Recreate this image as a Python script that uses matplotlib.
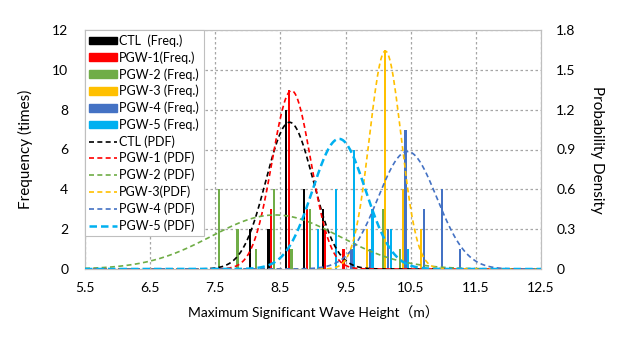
import numpy as np
from matplotlib import pyplot as plt
from matplotlib.patches import Patch
from matplotlib.lines import Line2D

plt.rcParams["font.family"] = ["Lato", "Noto Sans CJK JP"]

# Data ─────────────────────────────────────────────────────────────────────────
bin_centers = [7.58, 7.86, 8.14, 8.42, 8.69, 8.97, 9.25, 9.53, 9.81, 10.09, 10.36, 10.64, 10.92, 11.20]

freq_ctl = [0, 0, 2, 2, 8, 4, 3, 0, 0, 0, 0, 0, 0, 0]
freq_pgw1 = [0, 0, 0, 3, 9, 3, 2, 1, 0, 0, 0, 0, 0, 0]
freq_pgw2 = [4, 2, 1, 4, 1, 3, 0, 0, 0, 3, 1, 0, 0, 0]
freq_pgw3 = [0, 0, 0, 0, 0, 0, 0, 0, 2, 11, 4, 2, 0, 0]
freq_pgw4 = [0, 0, 0, 0, 0, 0, 0, 1, 1, 2, 7, 3, 4, 1]
freq_pgw5 = [0, 0, 0, 0, 0, 2, 4, 6, 3, 2, 1, 0, 0, 0]

# fitted normal distributions (mean, std) for the PDF curves
pdf_mean = [8.64, 8.67, 8.42, 10.11, 10.45, 9.40]
pdf_std = [0.361, 0.297, 0.98, 0.243, 0.451, 0.407]

names = ["CTL", "PGW-1", "PGW-2", "PGW-3", "PGW-4", "PGW-5"]
freq_labels = ["CTL  (Freq.)", "PGW-1(Freq.)", "PGW-2 (Freq.)", "PGW-3 (Freq.)", "PGW-4 (Freq.)", "PGW-5 (Freq.)"]
pdf_labels = ["CTL (PDF)", "PGW-1 (PDF)", "PGW-2 (PDF)", "PGW-3(PDF)", "PGW-4 (PDF)", "PGW-5 (PDF)"]
colors = ["#000000", "#FF0000", "#70AD47", "#FFC000", "#4472C4", "#00B0F0"]

freqs = [freq_ctl, freq_pgw1, freq_pgw2, freq_pgw3, freq_pgw4, freq_pgw5]

# Plot ─────────────────────────────────────────────────────────────────────────
fig = plt.figure(figsize=(6.24, 3.48), dpi=100)
ax = fig.add_axes([85 / 624, 1 - 269 / 348, 456 / 624, 239 / 348])
ax2 = ax.twinx()

step = 0.041
for i, f in enumerate(freqs):
    x = np.array(bin_centers) + (i - 2.5) * step
    ax.bar(x, f, width=0.034, color=colors[i], zorder=3)

xs = np.linspace(5.5, 12.5, 400)
for i in range(6):
    pdf = np.exp(-0.5 * ((xs - pdf_mean[i]) / pdf_std[i]) ** 2) / (np.sqrt(2 * np.pi) * pdf_std[i])
    if i == 5:
        ax2.plot(xs, pdf, color=colors[i], lw=1.8, dashes=(3, 1.6), zorder=4)
    else:
        ax2.plot(xs, pdf, color=colors[i], lw=1.2, dashes=(3, 2), zorder=4)

ax.set_xlim(5.5, 12.5)
ax.set_ylim(0, 12)
ax2.set_ylim(0, 1.8)
ax.set_xticks(np.arange(5.5, 12.6, 1.0))
ax.set_yticks(range(0, 13, 2))
ax2.set_yticks([0, 0.3, 0.6, 0.9, 1.2, 1.5, 1.8])
ax2.set_yticklabels(["0", "0.3", "0.6", "0.9", "1.2", "1.5", "1.8"])

ax.grid(True, color="#A6A6A6", lw=0.9, dashes=(2, 2), zorder=0)
for a in (ax, ax2):
    a.tick_params(length=0, labelsize=10)
    for s in a.spines.values():
        s.set_color("#BFBFBF")
        s.set_linewidth(0.8)
ax.tick_params(axis="y", pad=12)
ax2.tick_params(axis="y", pad=11)
ax.tick_params(axis="x", pad=9)

ax.set_xlabel("Maximum Significant Wave Height（m）", fontsize=10, labelpad=8)
ax.set_ylabel("Frequency (times)", fontsize=11, labelpad=14)
ax2.set_ylabel("Probability Density", fontsize=11, rotation=270, labelpad=20)

handles = [Patch(color=c) for c in colors]
for i, c in enumerate(colors):
    if i == 5:
        handles.append(Line2D([], [], color=c, lw=1.8, dashes=(3, 1.6)))
    else:
        handles.append(Line2D([], [], color=c, lw=1.2, dashes=(3, 2)))
leg = ax2.legend(handles, freq_labels + pdf_labels, loc="upper left", bbox_to_anchor=(0, 1),
                 borderaxespad=0, fontsize=9, frameon=True, fancybox=False,
                 edgecolor="#BFBFBF", framealpha=1, labelspacing=0.34,
                 handlelength=2.2, handleheight=0.6, handletextpad=0.2, borderpad=0.35)
leg.get_frame().set_linewidth(0.8)

fig.savefig("out.png", dpi=100)
